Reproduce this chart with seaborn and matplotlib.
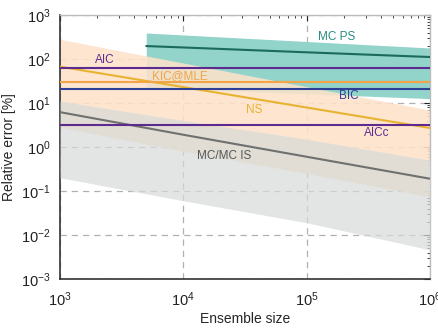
"""Relative error vs ensemble size for several evidence estimators."""
import matplotlib
matplotlib.use('Agg')
import matplotlib.pyplot as plt
import numpy as np
import seaborn as sns

# ensemble sizes
sizes = [1e3, 1e4, 1e5, 1e6]
sizes_ps = [5e3, 1e4, 1e5, 1e6]

# MC / MC IS (median and band)
mc = [6.2, 1.9, 0.6, 0.19]
mc_hi = [11.0, 4.0, 1.5, 0.5]
mc_lo = [0.2, 0.06, 0.019, 0.0046]

# NS (median and band)
ns = [67, 23, 7.9, 2.7]
ns_hi = [280, 81, 23.5, 6.9]
ns_lo = [2.8, 0.8, 0.25, 0.074]

# MC PS (median and band)
ps = [197, 183, 142, 111]
ps_hi = [390, 352, 250, 178]
ps_lo = [22.4, 20.7, 16.2, 12.6]

# information criteria (independent of ensemble size)
aic = 61
kic = 30
bic = 21
aicc = 3.1

sns.set_style('white')
plt.rcParams['font.family'] = ['Liberation Sans', 'DejaVu Sans']
plt.rcParams['mathtext.default'] = 'regular'

fig = plt.figure(figsize=(4.38, 3.30), dpi=100)
ax = fig.add_axes([0.137, 0.1545, 0.845, 0.80])
ax.set_xscale('log')
ax.set_yscale('log')

# uncertainty bands
ax.fill_between(sizes_ps, ps_lo, ps_hi, color='#92d3ca', lw=0, zorder=1)
ax.fill_between(sizes, ns_lo, ns_hi, color='#fde2ca', alpha=0.88, lw=0, zorder=2)
ax.fill_between(sizes, mc_lo, mc_hi, color='#d6dbd8', alpha=0.7, lw=0, zorder=3)

# curves
lw = 1.5
sns.lineplot(x=sizes_ps, y=ps, color='#1c6a5c', lw=lw, ax=ax, zorder=5)
sns.lineplot(x=sizes, y=ns, color='#e9b230', lw=lw, ax=ax, zorder=5)
sns.lineplot(x=sizes, y=mc, color='#6e716f', lw=lw, ax=ax, zorder=5)
sns.lineplot(x=[sizes[0], sizes[-1]], y=[aic] * 2, color='#5d2b8f', lw=lw, ax=ax, zorder=5)
sns.lineplot(x=[sizes[0], sizes[-1]], y=[kic] * 2, color='#f2a446', lw=lw, ax=ax, zorder=5)
sns.lineplot(x=[sizes[0], sizes[-1]], y=[bic] * 2, color='#2d3f96', lw=lw, ax=ax, zorder=5)
sns.lineplot(x=[sizes[0], sizes[-1]], y=[aicc] * 2, color='#5d2b8f', lw=lw, ax=ax, zorder=5)

# labels
fs = 8.5
ax.text(2320, 95, 'AIC', color='#5d2b8f', fontsize=fs, ha='center', va='center', zorder=6)
ax.text(9400, 41, 'KIC@MLE', color='#f2a446', fontsize=fs, ha='center', va='center', zorder=6)
ax.text(1.76e5, 316, 'MC PS', color='#2a8c80', fontsize=fs, ha='center', va='center', zorder=6)
ax.text(2.21e5, 14.4, 'BIC', color='#2d3f96', fontsize=fs, ha='center', va='center', zorder=6)
ax.text(3.74e4, 6.9, 'NS', color='#e9b230', fontsize=fs, ha='center', va='center', zorder=6)
ax.text(3.66e5, 2.08, 'AICc', color='#5d2b8f', fontsize=fs, ha='center', va='center', zorder=6)
ax.text(2.14e4, 0.63, 'MC/MC IS', color='#555857', fontsize=fs, ha='center', va='center', zorder=6)

ax.set_xlim(1e3, 1e6)
ax.set_ylim(1e-3, 1e3)
ax.grid(True, which='major', ls=(0, (5, 4)), color='#b0b0b0', lw=0.9, zorder=0)
for gl in ax.get_xgridlines() + ax.get_ygridlines():
    gl.set_zorder(4)

ax.tick_params(which='both', direction='in', top=True, right=True, labelsize=10.5, colors='#222222')
ax.tick_params(which='major', length=4)
ax.tick_params(axis='x', which='major', pad=8)
ax.tick_params(axis='y', which='major', pad=7)
ax.tick_params(which='minor', length=2)
for side in ['left', 'bottom']:
    ax.spines[side].set_color('#333333')
    ax.spines[side].set_linewidth(1.2)
for side in ['top', 'right']:
    ax.spines[side].set_color('#bbbbbb')
    ax.spines[side].set_linewidth(1.0)

ax.set_xlabel('Ensemble size', fontsize=10, labelpad=2)
ax.set_ylabel('Relative error [%]', fontsize=10)
ax.yaxis.set_label_coords(-0.118, 0.5)

fig.savefig('out.png', dpi=100)
